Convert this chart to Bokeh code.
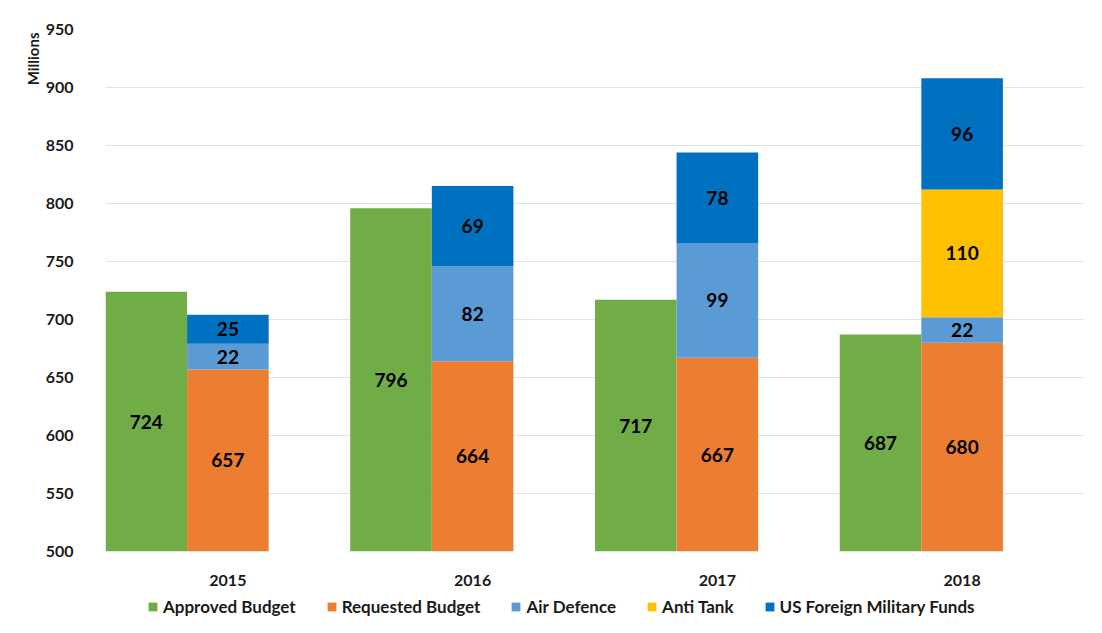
from bokeh.plotting import figure
from bokeh.layouts import column
from bokeh.models import Legend, LegendItem, Title, ColumnDataSource, FactorRange, SingleIntervalTicker
from bokeh.transform import dodge
from bokeh.embed import file_html
from bokeh.resources import INLINE
from bokeh.core.properties import value

years = ["2015", "2016", "2017", "2018"]
approved = [724, 796, 717, 687]
requested = [657, 664, 667, 680]
air_defence = [22, 82, 99, 22]
anti_tank = [0, 0, 0, 110]
us_fmf = [25, 69, 78, 96]

series_names = ["Requested Budget", "Air Defence", "Anti Tank", "US Foreign Military Funds"]
series_keys = ["requested", "air", "anti", "fmf"]
series_vals = [requested, air_defence, anti_tank, us_fmf]
colors = {"approved": "#70AD47", "requested": "#ED7D31", "air": "#5B9BD5",
          "anti": "#FFC000", "fmf": "#0070C0"}

FONT = "Lato"
TXT = "#1a1a1a"
BW = 1 / 3
OFF_A = -1 / 3   # approved bar centre offset inside category
OFF_S = 0.0      # stacked bar centre offset inside category

data = dict(years=years, approved=approved, base=[500] * 4)
for k, v in zip(series_keys, series_vals):
    data[k] = v
src = ColumnDataSource(data)

p = figure(x_range=FactorRange(*years, range_padding=0), y_range=(500, 950),
           width=1086, height=591, output_backend="svg", toolbar_location=None,
           min_border_left=105, min_border_right=2, min_border_top=29, min_border_bottom=40)
p.outline_line_color = None
p.background_fill_color = "white"
p.border_fill_color = "white"

r_app = p.vbar(x=dodge("years", OFF_A, range=p.x_range), bottom="base", top="approved",
               width=BW, source=src, fill_color=colors["approved"], line_color=None)

rs = p.vbar_stack(series_keys, x=dodge("years", OFF_S, range=p.x_range), width=BW, source=src,
                  fill_color=[colors[k] for k in series_keys], line_color=None)

# data labels, centred in each segment
ax_, ay_, at_ = [], [], []
sx_, sy_, st_ = [], [], []
for i, y in enumerate(years):
    ax_.append(y); ay_.append((500 + approved[i]) / 2); at_.append(str(approved[i]))
    cum = 0
    for v in series_vals:
        bottom = max(cum, 500)
        top = cum + v[i]
        if v[i] > 0:
            sx_.append(y); sy_.append((bottom + top) / 2); st_.append(str(v[i]))
        cum = top
for (xs, ys, ts), off in (((ax_, ay_, at_), OFF_A), ((sx_, sy_, st_), OFF_S)):
    s = ColumnDataSource(dict(x=xs, y=ys, t=ts))
    p.text(x=dodge("x", off, range=p.x_range), y="y", text="t", source=s,
           text_font=value(FONT), text_font_style="bold", text_font_size="19px",
           text_color="black", text_align="center", text_baseline="middle")

p.yaxis.ticker = SingleIntervalTicker(interval=50)
for ax in (p.xaxis, p.yaxis):
    ax.axis_line_color = None
    ax.major_tick_line_color = None
    ax.minor_tick_line_color = None
    ax.major_label_text_font = FONT
    ax.major_label_text_font_style = "bold"
    ax.major_label_text_font_size = "16px"
    ax.major_label_text_color = TXT
p.yaxis.major_label_standoff = 26
p.xaxis.major_label_standoff = 17

p.xgrid.grid_line_color = None
p.ygrid.grid_line_color = "#E3E3E3"
p.ygrid.grid_line_width = 1

p.add_layout(Title(text="Millions", align="right", text_font=FONT, text_font_style="bold",
                   text_font_size="15px", text_color=TXT, offset=3, standoff=2), "left")

# legend strip (separate figure so it can sit below the axis labels)
pl = figure(width=1086, height=26, output_backend="svg", toolbar_location=None,
            x_range=(0, 1), y_range=(0, 1), x_axis_type=None, y_axis_type=None,
            min_border=0)
pl.outline_line_color = None
pl.grid.visible = False
off_src = ColumnDataSource(dict(x=[-5], top=[-5]))   # kept outside the view: legend swatches only
leg_names = ["Approved Budget"] + series_names
leg_keys = ["approved"] + series_keys
items = []
for name, k in zip(leg_names, leg_keys):
    r = pl.vbar(x="x", top="top", width=0.1, source=off_src, fill_color=colors[k], line_color=None)
    items.append(LegendItem(label=name, renderers=[r]))
legend = Legend(items=items, orientation="horizontal", location=(42, 0),
                label_text_font=FONT, label_text_font_style="bold", label_text_font_size="17px",
                label_text_color=TXT, glyph_width=11, glyph_height=11, spacing=30,
                label_standoff=5, label_height=16, padding=0, margin=0, border_line_color=None,
                background_fill_alpha=0)
pl.add_layout(legend, "center")

open("out.html", "w").write(file_html(column(p, pl, spacing=0), INLINE))
